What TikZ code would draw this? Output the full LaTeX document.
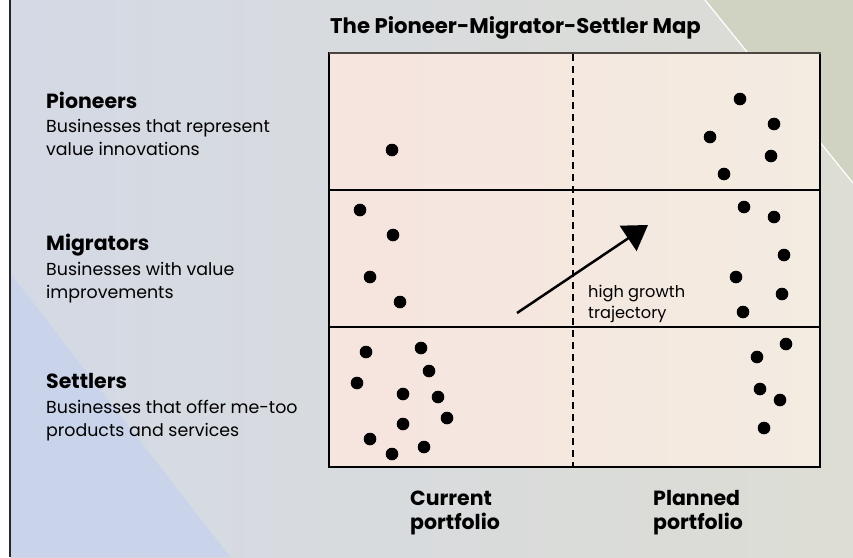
\documentclass[tikz,border=0pt]{standalone}
\usepackage{fontspec}
\setmainfont{Poppins}
\usetikzlibrary{arrows.meta}
\definecolor{bgL}{RGB}{212,217,229}
\definecolor{bgR}{RGB}{221,221,212}
\definecolor{bgBlue}{RGB}{201,212,235}
\definecolor{bgGreen}{RGB}{208,211,194}
\definecolor{boxL}{RGB}{246,228,222}
\definecolor{boxR}{RGB}{243,236,225}
\definecolor{topline}{RGB}{75,70,66}
\tikzset{
  dot/.style={circle,fill=black,draw=none,minimum size=12.6pt,inner sep=0pt},
  head/.style={anchor=base west,inner sep=0pt,font=\fontsize{20.5}{24}\selectfont\bfseries},
  body/.style={anchor=base west,inner sep=0pt,font=\fontsize{17.4}{20}\selectfont},
  small/.style={anchor=base west,inner sep=0pt,font=\fontsize{16.2}{19}\selectfont},
  ttl/.style={anchor=base west,inner sep=0pt,font=\fontsize{21.2}{24}\selectfont\bfseries},
  frame/.style={line width=1.5pt,black},
  divider/.style={dashed,dash pattern=on 7pt off 5pt,line width=1.2pt,black}
}
\begin{document}
\begin{tikzpicture}[x=1pt,y=-1pt]
\useasboundingbox (0,0) rectangle (853,557);
% background
\fill[white] (0,0) rectangle (853,557);
\shade[left color=bgL,right color=bgR] (10,0) rectangle (853,557);
\fill[bgBlue] (10,273) -- (230,557) -- (10,557) -- cycle;
\fill[bgGreen] (705,0) -- (853,0) -- (853,183) -- cycle;
\draw[white,line width=1.2pt] (705,0) -- (853,183);
\draw[line width=2pt,black!85] (10,0) -- (10,557);
% box
\shade[left color=boxL,right color=boxR] (329,53) rectangle (820,467);
\draw[frame] (329,53) rectangle (820,467);
\draw[line width=2pt,topline] (328.5,53) -- (820.5,53);
\draw[frame] (329,190) -- (820,190);
\draw[frame] (329,327) -- (820,327);
\coordinate (dtop) at (573,54);
\coordinate (dbot) at (573,466);
\draw[divider] (dtop) -- (dbot);
% title
\node[ttl] (title) at (330,33) {The Pioneer-Migrator-Settler Map};
% left labels
\node[head] (pio) at (46,108) {Pioneers};
\node[body] (pio1) at (46,132) {Businesses that represent};
\node[body] (pio2) at (46,155) {value innovations};
\node[head] (mig) at (46,250) {Migrators};
\node[body] (mig1) at (46,275) {Businesses with value};
\node[body] (mig2) at (46,298) {improvements};
\node[head] (set) at (46,388) {Settlers};
\node[body] (set1) at (46,413) {Businesses that offer me-too};
\node[body] (set2) at (46,436) {products and services};
% bottom labels
\node[head] (cur1) at (410,505) {Current};
\node[head] (cur2) at (410,529) {portfolio};
\node[head] (pla1) at (653,505) {Planned};
\node[head] (pla2) at (653,529) {portfolio};
% arrow
\coordinate (astart) at (517,313);
\coordinate (aend) at (648,225);
\draw[line width=2.5pt,-{Triangle[length=24pt,width=30pt]}] (astart) -- (aend);
\node[small] (hg1) at (588,297) {high growth};
\node[small] (hg2) at (588,318) {trajectory};
% pioneers dots
\node[dot] (p1) at (392,150) {};
\node[dot] (p2) at (740,99) {};
\node[dot] (p3) at (774,124) {};
\node[dot] (p4) at (710,137) {};
\node[dot] (p5) at (771,156) {};
\node[dot] (p6) at (724,174) {};
% migrators dots
\node[dot] (m1) at (360,210) {};
\node[dot] (m2) at (393,235) {};
\node[dot] (m3) at (370,277) {};
\node[dot] (m4) at (400,302) {};
\node[dot] (m5) at (744,207) {};
\node[dot] (m6) at (774,217) {};
\node[dot] (m7) at (784,255) {};
\node[dot] (m8) at (736,277) {};
\node[dot] (m9) at (782,294) {};
\node[dot] (m10) at (743,312) {};
% settlers dots
\node[dot] (s1) at (366,352) {};
\node[dot] (s2) at (421,348) {};
\node[dot] (s3) at (429,371) {};
\node[dot] (s4) at (357,383) {};
\node[dot] (s5) at (403,394) {};
\node[dot] (s6) at (438,397) {};
\node[dot] (s7) at (447,418) {};
\node[dot] (s8) at (403,424) {};
\node[dot] (s9) at (370,439) {};
\node[dot] (s10) at (424,447) {};
\node[dot] (s11) at (392,454) {};
\node[dot] (s12) at (786,344) {};
\node[dot] (s13) at (757,357) {};
\node[dot] (s14) at (760,389) {};
\node[dot] (s15) at (780,400) {};
\node[dot] (s16) at (764,428) {};
\end{tikzpicture}
\end{document}
